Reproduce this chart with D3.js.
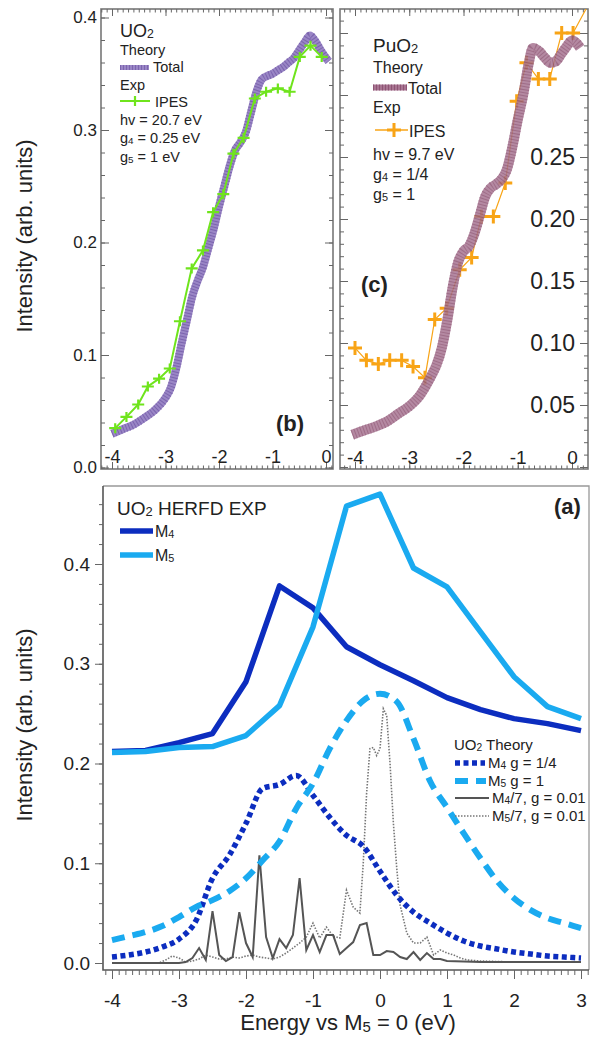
<!DOCTYPE html>
<html lang="en">
<head>
<meta charset="UTF-8">
<title>UO2 / PuO2 5f spectra</title>
<script src="https://d3js.org/d3.v7.min.js"></script>
<style>
  html, body { margin: 0; padding: 0; background: #fff; }
  svg { display: block; font-family: 'Liberation Sans', Arial, sans-serif; }
</style>
</head>
<body>
<div id="main"></div>
<script>
  // ---- panel (a): UO2 HERFD experiment, 0.5 eV steps ----
  const herfdE = [-4, -3.5, -3, -2.5, -2, -1.5, -1, -0.5, 0, 0.5, 1, 1.5, 2, 2.5, 3]
  const herfdM4 = [0.212, 0.213, 0.221, 0.230, 0.282, 0.378, 0.356, 0.317, 0.299, 0.283, 0.266, 0.254, 0.245, 0.240, 0.233]
  const herfdM5 = [0.211, 0.212, 0.216, 0.217, 0.228, 0.258, 0.337, 0.458, 0.470, 0.396, 0.377, 0.332, 0.287, 0.257, 0.245]

  // ---- panel (a): broadened theory ----
  const theoryE = [-4, -3.75, -3.5, -3.25, -3, -2.75, -2.5, -2.25, -2, -1.75, -1.5, -1.25, -1, -0.75, -0.5, -0.25,
    0, 0.25, 0.5, 0.75, 1, 1.25, 1.5, 1.75, 2, 2.25, 2.5, 2.75, 3]
  const theoryM4 = [0.006, 0.008, 0.011, 0.016, 0.024, 0.042, 0.085, 0.108, 0.140, 0.175, 0.179, 0.188, 0.168, 0.146, 0.128, 0.117,
    0.092, 0.068, 0.051, 0.040, 0.030, 0.022, 0.017, 0.014, 0.011, 0.009, 0.007, 0.006, 0.005]
  const theoryM5 = [0.023, 0.027, 0.031, 0.037, 0.046, 0.056, 0.063, 0.072, 0.085, 0.103, 0.122, 0.155, 0.180, 0.215, 0.243, 0.263,
    0.270, 0.262, 0.225, 0.182, 0.156, 0.130, 0.105, 0.082, 0.065, 0.053, 0.045, 0.040, 0.035]

  // ---- panel (a): narrow (g = 0.01) multiplets, divided by 7 ----
  const stickM4E = [-4, -3, -2.9, -2.8, -2.7, -2.6, -2.5, -2.4, -2.3, -2.2, -2.1, -2.0, -1.9, -1.8, -1.7, -1.6, -1.5, -1.4, -1.3,
    -1.2, -1.1, -1.0, -0.9, -0.8, -0.7, -0.6, -0.5, -0.4, -0.3, -0.2, -0.1, 0, 0.1, 0.2, 0.3, 0.4, 0.5, 0.6, 0.7, 0.8, 0.9, 1.0,
    1.5, 2, 2.5, 3]
  const stickM4 = [0, 0, 0.001, 0.005, 0.015, 0.003, 0.052, 0.008, 0.002, 0.006, 0.051, 0.020, 0.006, 0.108, 0.026, 0.005, 0.024,
    0.015, 0.028, 0.085, 0.013, 0.028, 0.011, 0.028, 0.028, 0.009, 0.015, 0.021, 0.038, 0.040, 0.008, 0.008, 0.012, 0.011,
    0.006, 0.004, 0.011, 0.003, 0.010, 0.004, 0.004, 0.002, 0.001, 0.001, 0.001, 0.001]
  const stickM5E = [-4, -3.3, -3.2, -3.1, -3.0, -2.9, -2.8, -2.7, -2.6, -2.5, -2.4, -2.3, -2.2, -2.1, -2.0, -1.9, -1.8, -1.7,
    -1.6, -1.5, -1.4, -1.3, -1.2, -1.1, -1.0, -0.9, -0.8, -0.7, -0.6, -0.5, -0.4, -0.3, -0.25, -0.2, -0.15, -0.1, -0.05, 0,
    0.05, 0.1, 0.15, 0.2, 0.25, 0.3, 0.4, 0.5, 0.6, 0.7, 0.8, 0.9, 1.0, 1.1, 1.2, 1.3, 1.5, 2, 2.5, 3]
  const stickM5 = [0, 0, 0.003, 0.007, 0.005, 0.001, 0.002, 0.004, 0.008, 0.006, 0.004, 0.004, 0.006, 0.005, 0.007, 0.008,
    0.006, 0.005, 0.004, 0.006, 0.010, 0.015, 0.020, 0.026, 0.040, 0.025, 0.036, 0.027, 0.025, 0.073, 0.056, 0.050, 0.100,
    0.170, 0.215, 0.216, 0.208, 0.215, 0.255, 0.248, 0.200, 0.140, 0.095, 0.058, 0.030, 0.020, 0.020, 0.026, 0.008, 0.013,
    0.010, 0.008, 0.005, 0.003, 0.002, 0.001, 0.001, 0.001]

  // ---- panel (b): UO2 ----
  const uo2TotalE = [-4.0, -3.8, -3.6, -3.4, -3.2, -3.0, -2.9, -2.8, -2.7, -2.6, -2.5, -2.4, -2.3, -2.2, -2.1, -2.0, -1.9,
    -1.8, -1.7, -1.6, -1.5, -1.4, -1.3, -1.2, -1.1, -1.0, -0.9, -0.8, -0.7, -0.6, -0.5, -0.4, -0.3, -0.2, -0.1, 0.0, 0.05]
  const uo2Total = [0.030, 0.034, 0.038, 0.044, 0.051, 0.062, 0.071, 0.088, 0.110, 0.131, 0.152, 0.166, 0.178, 0.195, 0.212,
    0.232, 0.250, 0.268, 0.282, 0.289, 0.298, 0.316, 0.334, 0.345, 0.348, 0.350, 0.353, 0.356, 0.360, 0.364, 0.371, 0.378,
    0.384, 0.379, 0.371, 0.364, 0.361]
  const uo2IpesE = [-3.94, -3.73, -3.51, -3.33, -3.12, -2.92, -2.73, -2.51, -2.30, -2.11, -1.92, -1.73, -1.54, -1.33, -1.12,
    -0.90, -0.68, -0.49, -0.29, -0.08]
  const uo2Ipes = [0.035, 0.045, 0.056, 0.072, 0.079, 0.088, 0.130, 0.177, 0.193, 0.227, 0.243, 0.279, 0.293, 0.328, 0.334,
    0.337, 0.334, 0.365, 0.375, 0.365]

  // ---- panel (c): PuO2 ----
  const puo2TotalE = [-4.05, -3.8, -3.6, -3.4, -3.2, -3.0, -2.8, -2.7, -2.6, -2.5, -2.4, -2.3, -2.2, -2.1, -2.0, -1.9, -1.8,
    -1.7, -1.6, -1.5, -1.4, -1.3, -1.2, -1.1, -1.0, -0.9, -0.8, -0.72, -0.6, -0.5, -0.4, -0.3, -0.2, -0.1, 0.0, 0.1, 0.15]
  const puo2Total = [0.026, 0.030, 0.033, 0.037, 0.043, 0.049, 0.058, 0.065, 0.073, 0.082, 0.096, 0.118, 0.145, 0.165, 0.174,
    0.178, 0.188, 0.203, 0.218, 0.225, 0.228, 0.232, 0.240, 0.258, 0.280, 0.300, 0.325, 0.338, 0.335, 0.330, 0.326, 0.327,
    0.333, 0.339, 0.344, 0.341, 0.338]
  const puo2IpesE = [-4.0, -3.79, -3.57, -3.36, -3.14, -2.93, -2.71, -2.53, -2.31, -2.07, -1.85, -1.67, -1.45, -1.23, -1.02,
    -0.84, -0.62, -0.41, -0.19, 0.02, 0.45]
  const puo2Ipes = [0.096, 0.086, 0.083, 0.086, 0.086, 0.081, 0.072, 0.119, 0.128, 0.159, 0.169, 0.202, 0.202, 0.229, 0.295,
    0.326, 0.313, 0.313, 0.350, 0.350, 0.385]

  // tick labels
  const xTicksTop = [-4, -3, -2, -1, 0]
  const yTicksB = [0, 0.1, 0.2, 0.3, 0.4]
  const yTicksC = [0.05, 0.1, 0.15, 0.2, 0.25]
  const xTicksA = [-4, -3, -2, -1, 0, 1, 2, 3]
  const yTicksA = [0, 0.1, 0.2, 0.3, 0.4]

  const cM4 = '#0c2dbf'
  const cM5 = '#1aaaf0'
  const textC = '#222'
  const tickC = '#666'

  const svg = d3.select('#main').append('svg').attr('width', 596).attr('height', 1040)
  const defs = svg.append('defs')

  const pairs = (xs, ys) => xs.map((x, i) => [x, ys[i]])
  const lineGen = (x, y, curve) => d3.line().x(d => x(d[0])).y(d => y(d[1])).curve(curve || d3.curveLinear)

  // text with small subscripts, e.g. ['UO', ['2', 1], ' Theory']
  function richText (g, x, y, parts, size, opts) {
    opts = opts || {}
    const t = g.append('text').attr('x', x).attr('y', y)
      .attr('font-size', size).attr('fill', opts.fill || textC)
    if (opts.anchor) t.attr('text-anchor', opts.anchor)
    if (opts.weight) t.attr('font-weight', opts.weight)
    let shift = 0
    parts.forEach(p => {
      const sub = Array.isArray(p)
      const want = sub ? p[1] : 0
      t.append('tspan').attr('dy', want - shift)
        .attr('font-size', sub ? size * 0.68 : size)
        .text(sub ? p[0] : p)
      shift = want
    })
    return t
  }

  // axis helper: strips domain line, sets colours and font
  function axisG (parent, tx, ty, axis, fontSize) {
    const g = parent.append('g').attr('transform', `translate(${tx},${ty})`).call(axis)
    g.select('.domain').remove()
    g.attr('font-family', null).attr('font-size', fontSize || null)
    g.selectAll('line').attr('stroke', tickC)
    g.selectAll('text').attr('fill', textC)
    return g
  }

  function clip (id, f) {
    defs.append('clipPath').attr('id', id).append('rect')
      .attr('x', f.l).attr('y', f.t).attr('width', f.r - f.l).attr('height', f.b - f.t)
  }

  // thick "ribbed" theory line (Igor style)
  function ribbed (g, d, base, rib, w) {
    g.append('path').attr('d', d).attr('fill', 'none').attr('stroke', base).attr('stroke-width', w)
    g.append('path').attr('d', d).attr('fill', 'none').attr('stroke', rib).attr('stroke-width', w)
      .attr('stroke-dasharray', '1,2').attr('opacity', 0.75)
  }

  function plusMarks (g, data, x, y, color, hw, hh, sw) {
    g.selectAll(null).data(data).enter().append('path')
      .attr('d', d => `M${x(d[0]) - hw},${y(d[1])}h${2 * hw}M${x(d[0])},${y(d[1]) - hh}v${2 * hh}`)
      .attr('stroke', color).attr('stroke-width', sw).attr('fill', 'none')
  }

  // mirror box with inward ticks on all four sides
  function innerBox (g, f, x, y, xMin, xMaj, yMin, yMaj) {
    g.append('rect').attr('x', f.l).attr('y', f.t).attr('width', f.r - f.l).attr('height', f.b - f.t)
      .attr('fill', 'none').attr('stroke', '#777').attr('stroke-width', 1.6)
    const none = () => ''
    axisG(g, 0, f.b, d3.axisTop(x).tickValues(xMin).tickSize(3.5).tickFormat(none))
    axisG(g, 0, f.b, d3.axisTop(x).tickValues(xMaj).tickSize(7).tickFormat(none))
    axisG(g, 0, f.t, d3.axisBottom(x).tickValues(xMin).tickSize(3.5).tickFormat(none))
    axisG(g, 0, f.t, d3.axisBottom(x).tickValues(xMaj).tickSize(7).tickFormat(none))
    axisG(g, f.l, 0, d3.axisRight(y).tickValues(yMin).tickSize(4).tickFormat(none))
    axisG(g, f.l, 0, d3.axisRight(y).tickValues(yMaj).tickSize(8).tickFormat(none))
    axisG(g, f.r, 0, d3.axisLeft(y).tickValues(yMin).tickSize(4).tickFormat(none))
    axisG(g, f.r, 0, d3.axisLeft(y).tickValues(yMaj).tickSize(8).tickFormat(none))
  }

  const fmtInt = d => String(d)

  // ================= panel (b) =================
  const fb = {l: 101, r: 333, t: 9, b: 469}
  const xB = d3.scaleLinear().domain([-4, 0]).range([112, 326])
  const yB = d3.scaleLinear().domain([0, 0.4]).range([467.5, 17.5])
  const gB = svg.append('g')
  clip('clipB', fb)
  innerBox(gB, fb, xB, yB,
    d3.range(-42, 2).map(i => i / 10), xTicksTop,
    d3.range(0, 21).map(i => i / 50), yTicksB)
  axisG(gB, fb.l, 0, d3.axisLeft(yB).tickValues(yTicksB).tickSize(0).tickPadding(4).tickFormat(d3.format('.1f')), 17)
  axisG(gB, 0, fb.b, d3.axisTop(xB).tickValues(xTicksTop).tickSize(0).tickPadding(6).tickFormat(fmtInt), 18)

  const plotB = gB.append('g').attr('clip-path', 'url(#clipB)')
  ribbed(plotB, lineGen(xB, yB, d3.curveMonotoneX)(pairs(uo2TotalE, uo2Total)), '#9a86c6', '#7259a6', 8)
  const ipesB = pairs(uo2IpesE, uo2Ipes)
  plotB.append('path').attr('d', lineGen(xB, yB)(ipesB)).attr('fill', 'none')
    .attr('stroke', '#6fe41c').attr('stroke-width', 2)
  plusMarks(plotB, ipesB, xB, yB, '#6fe41c', 6, 5, 2.2)

  // legend (b)
  richText(gB, 120, 37, ['UO', ['2', 1]], 18)
  richText(gB, 120, 55, ['Theory'], 14.5)
  ribbed(gB, 'M120,67.5H149', '#9a86c6', '#7259a6', 5)
  richText(gB, 153, 72, ['Total'], 14.5)
  richText(gB, 120, 90, ['Exp'], 14.5)
  gB.append('path').attr('d', 'M120,101H150').attr('stroke', '#6fe41c').attr('stroke-width', 2)
  gB.append('path').attr('d', 'M129,101h12M135,96v10').attr('stroke', '#6fe41c').attr('stroke-width', 2.2)
  richText(gB, 155, 107, ['IPES'], 14.5)
  richText(gB, 120, 125, ['hv = 20.7 eV'], 14.5)
  richText(gB, 120, 143, ['g', ['4', 1], ' = 0.25 eV'], 14.5)
  richText(gB, 120, 162, ['g', ['5', 1], ' = 1 eV'], 14.5)
  richText(gB, 276, 431, ['(b)'], 22, {weight: 'bold'})

  // ================= panel (c) =================
  const fc = {l: 340, r: 588, t: 9, b: 469}
  const xC = d3.scaleLinear().domain([-4, 0]).range([355, 572])
  const yC = d3.scaleLinear().domain([0, 0.25]).range([467, 157])
  const gC = svg.append('g')
  clip('clipC', fc)
  innerBox(gC, fc, xC, yC,
    d3.range(-42, 3).map(i => i / 10), xTicksTop,
    d3.range(0, 37).map(i => i / 100), [0, 0.05, 0.1, 0.15, 0.2, 0.25, 0.3, 0.35])
  axisG(gC, fc.r, 0, d3.axisLeft(yC).tickValues(yTicksC).tickSize(0).tickPadding(13).tickFormat(d3.format('.2f')), 23)
  axisG(gC, 0, fc.b, d3.axisTop(xC).tickValues(xTicksTop).tickSize(0).tickPadding(5).tickFormat(fmtInt), 19)

  const plotC = gC.append('g').attr('clip-path', 'url(#clipC)')
  const ipesC = pairs(puo2IpesE, puo2Ipes)
  plotC.append('path').attr('d', lineGen(xC, yC)(ipesC)).attr('fill', 'none')
    .attr('stroke', '#f8a416').attr('stroke-width', 1.2)
  plusMarks(plotC, ipesC, xC, yC, '#f8a416', 7, 7, 3)
  const gTot = plotC.append('g').attr('opacity', 0.85)
  ribbed(gTot, lineGen(xC, yC, d3.curveMonotoneX)(pairs(puo2TotalE, puo2Total)), '#a87592', '#854a69', 10)

  // legend (c)
  richText(gC, 373, 52, ['PuO', ['2', 1]], 19)
  richText(gC, 373, 73, ['Theory'], 16)
  ribbed(gC, 'M373,87.5H407', '#a87592', '#854a69', 6)
  richText(gC, 408, 94, ['Total'], 16)
  richText(gC, 373, 113, ['Exp'], 16)
  gC.append('path').attr('d', 'M375,130H408').attr('stroke', '#f8a416').attr('stroke-width', 1.5)
  gC.append('path').attr('d', 'M387,130h14M394,123v14').attr('stroke', '#f8a416').attr('stroke-width', 3)
  richText(gC, 409, 137, ['IPES'], 16)
  richText(gC, 373, 160, ['hv = 9.7 eV'], 16)
  richText(gC, 373, 180, ['g', ['4', 1], ' = 1/4'], 16)
  richText(gC, 373, 200, ['g', ['5', 1], ' = 1'], 16)
  richText(gC, 361, 292, ['(c)'], 22, {weight: 'bold'})

  // shared y title for top row
  svg.append('text').attr('transform', 'translate(32,236) rotate(-90)')
    .attr('text-anchor', 'middle').attr('font-size', 22).attr('fill', textC).text('Intensity (arb. units)')

  // ================= panel (a) =================
  const fa = {l: 103, r: 589, t: 486, b: 970}
  const xA = d3.scaleLinear().domain([-4, 3]).range([112, 581])
  const yA = d3.scaleLinear().domain([0, 0.4]).range([963, 564])
  const gA = svg.append('g')
  gA.append('path').attr('d', `M${fa.l},${fa.t}H${fa.r}V${fa.b}`).attr('fill', 'none')
    .attr('stroke', '#999').attr('stroke-width', 1.3)
  gA.append('path').attr('d', `M${fa.l},${fa.t}V${fa.b}H${fa.r}`).attr('fill', 'none')
    .attr('stroke', '#555').attr('stroke-width', 1.6)
  const none = () => ''
  axisG(gA, fa.l, 0, d3.axisLeft(yA).tickValues(d3.range(0, 24).map(i => i / 50)).tickSize(4).tickFormat(none))
  axisG(gA, fa.l, 0, d3.axisLeft(yA).tickValues(yTicksA).tickSize(8).tickPadding(5).tickFormat(d3.format('.1f')), 19)
  axisG(gA, 0, fa.b, d3.axisBottom(xA).tickValues(d3.range(-41, 32).map(i => i / 10)).tickSize(5).tickFormat(none))
  axisG(gA, 0, fa.b, d3.axisBottom(xA).tickValues(xTicksA).tickSize(9).tickPadding(15).tickFormat(fmtInt), 19)

  const plotA = gA.append('g')
  plotA.append('path').attr('d', lineGen(xA, yA)(pairs(stickM5E, stickM5))).attr('fill', 'none')
    .attr('stroke', '#777').attr('stroke-width', 1.6).attr('stroke-dasharray', '1.5,1.5')
  plotA.append('path').attr('d', lineGen(xA, yA)(pairs(stickM4E, stickM4))).attr('fill', 'none')
    .attr('stroke', '#555').attr('stroke-width', 2)
  plotA.append('path').attr('d', lineGen(xA, yA, d3.curveMonotoneX)(pairs(theoryE, theoryM4))).attr('fill', 'none')
    .attr('stroke', cM4).attr('stroke-width', 5.5).attr('stroke-dasharray', '5,3.5')
  plotA.append('path').attr('d', lineGen(xA, yA, d3.curveMonotoneX)(pairs(theoryE, theoryM5))).attr('fill', 'none')
    .attr('stroke', cM5).attr('stroke-width', 6).attr('stroke-dasharray', '13,8')
  plotA.append('path').attr('d', lineGen(xA, yA)(pairs(herfdE, herfdM4))).attr('fill', 'none')
    .attr('stroke', cM4).attr('stroke-width', 5.5).attr('stroke-linejoin', 'round')
  plotA.append('path').attr('d', lineGen(xA, yA)(pairs(herfdE, herfdM5))).attr('fill', 'none')
    .attr('stroke', cM5).attr('stroke-width', 5.5).attr('stroke-linejoin', 'round')

  // legend (a), experiment
  richText(gA, 117, 515, ['UO', ['2', 1], ' HERFD EXP'], 19)
  gA.append('path').attr('d', 'M120,531H153').attr('stroke', cM4).attr('stroke-width', 5.5)
  richText(gA, 155, 537, ['M', ['4', 1]], 16)
  gA.append('path').attr('d', 'M120,555H153').attr('stroke', cM5).attr('stroke-width', 5.5)
  richText(gA, 155, 561, ['M', ['5', 1]], 16)
  richText(gA, 554, 514, ['(a)'], 22, {weight: 'bold'})

  // legend (a), theory
  richText(gA, 454, 750, ['UO', ['2', 1], ' Theory'], 15)
  gA.append('path').attr('d', 'M455,763H485').attr('stroke', cM4).attr('stroke-width', 5.5).attr('stroke-dasharray', '5,3.5')
  richText(gA, 488, 768, ['M', ['4', 1], ' g = 1/4'], 15)
  gA.append('path').attr('d', 'M455,781H486').attr('stroke', cM5).attr('stroke-width', 6).attr('stroke-dasharray', '13,8')
  richText(gA, 488, 786, ['M', ['5', 1], ' g = 1'], 15)
  gA.append('path').attr('d', 'M455,798H489').attr('stroke', '#555').attr('stroke-width', 2)
  richText(gA, 492, 803, ['M', ['4', 1], '/7, g = 0.01'], 15)
  gA.append('path').attr('d', 'M455,816H489').attr('stroke', '#777').attr('stroke-width', 1.6).attr('stroke-dasharray', '1.5,1.5')
  richText(gA, 492, 821, ['M', ['5', 1], '/7, g = 0.01'], 15)

  svg.append('text').attr('transform', 'translate(32,725) rotate(-90)')
    .attr('text-anchor', 'middle').attr('font-size', 22).attr('fill', textC).text('Intensity (arb. units)')
  richText(svg, 348, 1030, ['Energy vs M', ['5', 2], ' = 0 (eV)'], 22, {anchor: 'middle'})
</script>
</body>
</html>
